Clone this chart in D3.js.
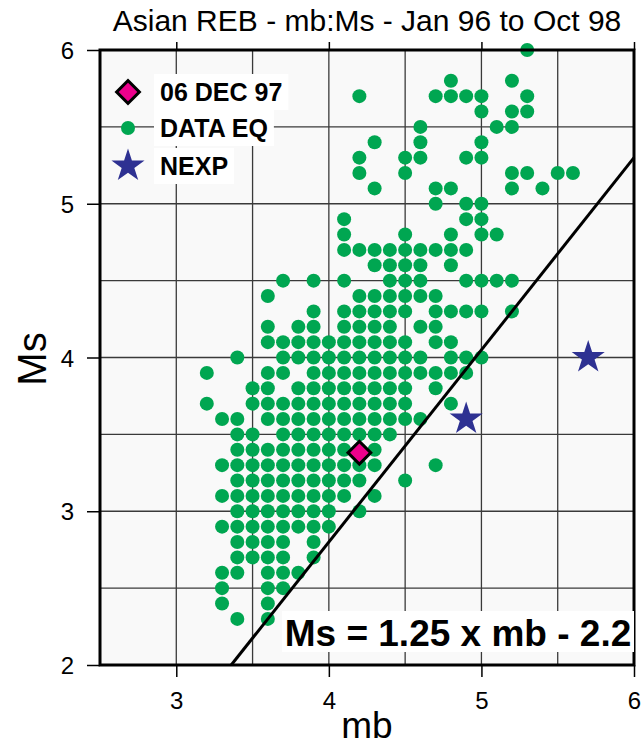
<!DOCTYPE html>
<html>
<head>
<meta charset="utf-8">
<script src="https://cdn.jsdelivr.net/npm/d3@7"></script>
<style>
  body { margin: 0; background: #fff; }
  svg { display: block; font-family: "Liberation Sans", Arial, sans-serif; }
</style>
</head>
<body>
<div id="chart-area"></div>
<script>
// Ms levels and the mb values of the events found on each level
var msLevels = [2.3, 2.4, 2.5, 2.6, 2.7, 2.8, 2.9, 3.0, 3.1, 3.2, 3.3, 3.4, 3.5, 3.6, 3.7, 3.8, 3.9,
	4.0, 4.1, 4.2, 4.3, 4.4, 4.5, 4.6, 4.7, 4.8, 4.9, 5.0, 5.1, 5.2, 5.3, 5.4, 5.5, 5.6, 5.7, 5.8, 6.0];
var mbByLevel = [
	[3.4, 3.6],
	[3.3, 3.6],
	[3.3, 3.6, 3.7],
	[3.3, 3.4, 3.6, 3.7, 3.8],
	[3.4, 3.5, 3.6, 3.7, 3.9],
	[3.4, 3.5, 3.6, 3.7, 3.9],
	[3.3, 3.4, 3.5, 3.6, 3.7, 3.8, 3.9, 4.0],
	[3.4, 3.5, 3.6, 3.7, 3.8, 3.9, 4.0, 4.2],
	[3.3, 3.4, 3.5, 3.6, 3.7, 3.8, 3.9, 4.0, 4.1, 4.3],
	[3.4, 3.5, 3.6, 3.7, 3.8, 3.9, 4.0, 4.1, 4.2, 4.5],
	[3.3, 3.4, 3.5, 3.6, 3.7, 3.8, 3.9, 4.0, 4.1, 4.2, 4.3, 4.7],
	[3.4, 3.5, 3.6, 3.7, 3.8, 3.9, 4.0, 4.1, 4.2, 4.3],
	[3.4, 3.5, 3.7, 3.8, 3.9, 4.0, 4.1, 4.2, 4.3, 4.4],
	[3.3, 3.4, 3.6, 3.7, 3.8, 3.9, 4.0, 4.1, 4.2, 4.3, 4.4, 4.5, 4.6],
	[3.2, 3.5, 3.6, 3.7, 3.8, 3.9, 4.0, 4.1, 4.2, 4.3, 4.4, 4.5, 4.8],
	[3.5, 3.6, 3.8, 3.9, 4.0, 4.1, 4.2, 4.3, 4.4, 4.5, 4.7],
	[3.2, 3.6, 3.7, 3.9, 4.0, 4.1, 4.2, 4.3, 4.4, 4.5, 4.6, 4.7, 4.8, 4.9],
	[3.4, 3.7, 3.8, 3.9, 4.0, 4.1, 4.2, 4.3, 4.4, 4.5, 4.6, 4.8, 4.9, 5.0],
	[3.6, 3.7, 3.8, 3.9, 4.0, 4.1, 4.2, 4.3, 4.4, 4.5, 4.7, 4.8],
	[3.6, 3.8, 3.9, 4.1, 4.2, 4.3, 4.4, 4.6, 4.7],
	[3.9, 4.1, 4.2, 4.3, 4.4, 4.5, 4.7, 4.8, 4.9, 5.0, 5.2],
	[3.6, 4.2, 4.3, 4.4, 4.5, 4.6, 4.7],
	[3.7, 3.9, 4.1, 4.4, 4.5, 4.6, 4.9, 5.0, 5.1, 5.2],
	[4.3, 4.4, 4.5, 4.6, 4.8],
	[4.1, 4.2, 4.3, 4.4, 4.5, 4.6, 4.7, 4.8, 4.9],
	[4.1, 4.5, 4.8, 5.0, 5.1],
	[4.1, 4.9, 5.0],
	[4.7, 4.9, 5.0],
	[4.3, 4.7, 4.8, 5.2, 5.4],
	[4.2, 4.5, 5.2, 5.3, 5.5, 5.6],
	[4.2, 4.5, 4.6, 4.9, 5.0],
	[4.3, 4.6, 5.0],
	[4.6, 5.1, 5.2],
	[5.0, 5.2, 5.3],
	[4.2, 4.7, 4.8, 4.9, 5.0, 5.3],
	[4.8, 5.2],
	[5.3]
];

// 06 DEC 97 event and the nuclear explosions
var decEvent = [4.2, 3.38];
var nexpMb = [4.9, 5.7];
var nexpMs = [3.6, 4.0];

// Ms = 1.25 x mb - 2.2
var lineSlope = 1.25;
var lineIntercept = -2.2;
var lineMb = [3.36, 6.0];

var xTicks = [3, 4, 5, 6];
var yTicks = [2, 3, 4, 5, 6];
var gridX = [3.0, 3.5, 4.0, 4.5, 5.0, 5.5];
var gridY = [2.5, 3.0, 3.5, 4.0, 4.5, 5.0, 5.5];

var chartWidth = 642, chartHeight = 749;
var plotLeft = 100, plotRight = 634, plotTop = 50, plotBottom = 665;

var green = "#00a651";
var navy = "#2e3192";
var magenta = "#ec008c";

var svg = d3.select("#chart-area").append("svg")
	.attr("width", chartWidth)
	.attr("height", chartHeight);

var x = d3.scaleLinear().domain([2.5, 6]).range([plotLeft, plotRight]);
var y = d3.scaleLinear().domain([2, 6]).range([plotBottom, plotTop]);

// plot background
svg.append("rect")
	.attr("x", plotLeft).attr("y", plotTop)
	.attr("width", plotRight - plotLeft).attr("height", plotBottom - plotTop)
	.style("fill", "#f9f9f9");

// grid
svg.selectAll("line.gx").data(gridX).enter().append("line")
	.attr("class", "gx")
	.attr("x1", function(d){ return x(d); }).attr("x2", function(d){ return x(d); })
	.attr("y1", plotTop).attr("y2", plotBottom)
	.style("stroke", "#3a3a3a").style("stroke-width", 1.3);
svg.selectAll("line.gy").data(gridY).enter().append("line")
	.attr("class", "gy")
	.attr("x1", plotLeft).attr("x2", plotRight)
	.attr("y1", function(d){ return y(d); }).attr("y2", function(d){ return y(d); })
	.style("stroke", "#3a3a3a").style("stroke-width", 1.3);

// flatten the rows into points
var points = [];
msLevels.forEach(function(ms, i){
	mbByLevel[i].forEach(function(mb){
		points.push({mb: mb, ms: ms});
	});
});

var plot = svg.append("g");
plot.selectAll("circle.eq").data(points).enter().append("circle")
	.attr("class", "eq")
	.attr("cx", function(d){ return x(d.mb); })
	.attr("cy", function(d){ return y(d.ms); })
	.attr("r", 7)
	.style("fill", green);

// regression line
plot.append("line")
	.attr("x1", x(lineMb[0])).attr("y1", y(lineSlope * lineMb[0] + lineIntercept))
	.attr("x2", x(lineMb[1])).attr("y2", y(lineSlope * lineMb[1] + lineIntercept))
	.style("stroke", "#000").style("stroke-width", 3);

// NEXP stars
var star = d3.symbol().type(d3.symbolStar).size(340);
plot.selectAll("path.nexp").data(nexpMb).enter().append("path")
	.attr("class", "nexp")
	.attr("d", star)
	.attr("transform", function(d, i){ return "translate(" + x(d) + "," + y(nexpMs[i]) + ")"; })
	.style("fill", navy);

// diamond
plot.append("path")
	.attr("d", d3.symbol().type(d3.symbolSquare).size(260))
	.attr("transform", "translate(" + x(decEvent[0]) + "," + y(decEvent[1]) + ") rotate(45)")
	.style("fill", magenta).style("stroke", "#000").style("stroke-width", 3);

// frame
svg.append("rect")
	.attr("x", plotLeft).attr("y", plotTop)
	.attr("width", plotRight - plotLeft).attr("height", plotBottom - plotTop)
	.style("fill", "none").style("stroke", "#000").style("stroke-width", 3);

// axes
var xAxis = svg.append("g")
	.attr("transform", "translate(0," + plotBottom + ")")
	.call(d3.axisBottom(x).tickValues(xTicks).tickSize(12).tickPadding(10).tickFormat(d3.format("d")));
var yAxis = svg.append("g")
	.attr("transform", "translate(" + plotLeft + ",0)")
	.call(d3.axisLeft(y).tickValues(yTicks).tickSize(13).tickPadding(13).tickFormat(d3.format("d")));
var topAxis = svg.append("g")
	.attr("transform", "translate(0," + plotTop + ")")
	.call(d3.axisTop(x).tickValues(xTicks).tickSize(8).tickFormat(""));
[xAxis, yAxis, topAxis].forEach(function(a){
	a.select(".domain").remove();
	a.selectAll(".tick line").style("stroke", "#000").style("stroke-width", 1.5);
	a.selectAll(".tick text").style("font-family", "inherit").style("font-size", "24px").style("fill", "#000");
});
xAxis.selectAll(".tick text").attr("dy", "0.9em");
yAxis.selectAll(".tick text").attr("dy", "0.36em");

// titles
svg.append("text")
	.attr("x", 367).attr("y", 31)
	.attr("text-anchor", "middle")
	.style("font-size", "30px")
	.text("Asian REB - mb:Ms - Jan 96 to Oct 98");
svg.append("text")
	.attr("x", 367).attr("y", 738)
	.attr("text-anchor", "middle")
	.style("font-size", "37px")
	.text("mb");
svg.append("text")
	.attr("transform", "translate(46,359) rotate(-90)")
	.attr("text-anchor", "middle")
	.style("font-size", "40px")
	.text("Ms");

// legend
var legendItems = ["06 DEC 97", "DATA EQ", "NEXP"];
var legendY = [92, 128, 166];
var legend = svg.append("g");
legendItems.forEach(function(label, i){
	var t = legend.append("text")
		.attr("x", 160).attr("y", legendY[i])
		.attr("dy", "0.36em")
		.style("font-size", "25px").style("font-weight", "bold")
		.text(label);
	var bb = t.node().getBBox();
	legend.insert("rect", "text")
		.attr("x", bb.x - 6).attr("y", legendY[i] - 18)
		.attr("width", bb.width + 12).attr("height", 36)
		.style("fill", "#fff");
});
legend.append("path")
	.attr("d", d3.symbol().type(d3.symbolSquare).size(260))
	.attr("transform", "translate(128," + legendY[0] + ") rotate(45)")
	.style("fill", magenta).style("stroke", "#000").style("stroke-width", 3);
legend.append("circle")
	.attr("cx", 128).attr("cy", legendY[1]).attr("r", 7)
	.style("fill", green);
legend.append("path")
	.attr("d", star)
	.attr("transform", "translate(128," + legendY[2] + ")")
	.style("fill", navy);

// equation box
var eq = svg.append("g");
eq.append("rect")
	.attr("x", 282).attr("y", 611)
	.attr("width", plotRight - 282).attr("height", 41)
	.style("fill", "#fff");
eq.append("text")
	.attr("x", 458).attr("y", 646)
	.attr("text-anchor", "middle")
	.style("font-size", "37px").style("font-weight", "bold")
	.text("Ms = 1.25 x mb - 2.2");
</script>
</body>
</html>
